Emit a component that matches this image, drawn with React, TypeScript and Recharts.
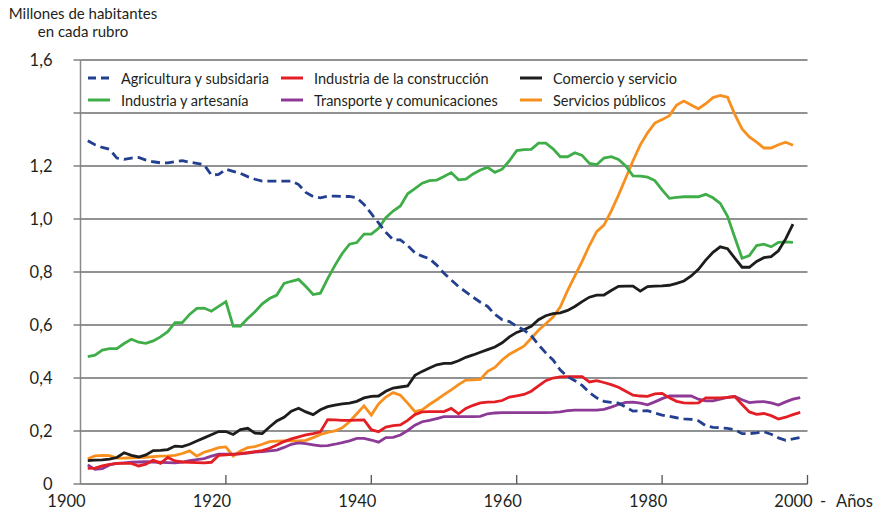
import { LineChart, Line, XAxis, YAxis, CartesianGrid, Legend } from 'recharts';

// años 1901..1999, un valor por año (null = sin dato)
const years = Array.from({ length: 99 }, (_, i) => 1901 + i);

const agricultura = [
  1.295, 1.28, 1.27, 1.263, 1.23, 1.225, 1.23, 1.232, 1.222, 1.216,
  1.212, 1.212, 1.216, 1.22, 1.214, 1.21, 1.205, 1.166, 1.168, 1.188,
  1.18, 1.172, 1.16, 1.15, 1.143, 1.143, 1.143, 1.143, 1.143, 1.13,
  1.1, 1.085, 1.08, 1.086, 1.086, 1.085, 1.085, 1.08, 1.055, 1.02,
  0.985, 0.95, 0.922, 0.921, 0.9, 0.872, 0.86, 0.85, 0.826, 0.795,
  0.77, 0.745, 0.725, 0.705, 0.686, 0.67, 0.64, 0.62, 0.613, 0.595,
  0.581, 0.56, 0.525, 0.495, 0.468, 0.43, 0.405, 0.39, 0.372, 0.345,
  0.325, 0.312, 0.308, 0.305, 0.29, 0.275, 0.276, 0.277, 0.268, 0.26,
  0.255, 0.25, 0.246, 0.244, 0.238, 0.22, 0.214, 0.212, 0.21, 0.205,
  0.19, 0.19, 0.193, 0.197, 0.188, 0.174, 0.165, 0.17, 0.176,
];

const artesania = [
  0.481, 0.486, 0.505, 0.511, 0.511, 0.53, 0.546, 0.535, 0.531, 0.54,
  0.555, 0.575, 0.609, 0.609, 0.64, 0.663, 0.664, 0.652, 0.67, 0.688,
  0.596, 0.596, 0.625, 0.65, 0.68, 0.7, 0.713, 0.757, 0.765, 0.772,
  0.745, 0.715, 0.72, 0.775, 0.825, 0.87, 0.905, 0.911, 0.943, 0.943,
  0.965, 1.005, 1.03, 1.049, 1.095, 1.115, 1.135, 1.145, 1.147, 1.16,
  1.175, 1.148, 1.15, 1.17, 1.185, 1.195, 1.176, 1.188, 1.22, 1.258,
  1.262, 1.263, 1.286, 1.286, 1.265, 1.235, 1.235, 1.25, 1.24, 1.21,
  1.205, 1.23, 1.235, 1.225, 1.2, 1.163, 1.162, 1.158, 1.145, 1.11,
  1.078, 1.082, 1.084, 1.084, 1.084, 1.093, 1.08, 1.059, 1.01, 0.93,
  0.852, 0.862, 0.9, 0.905, 0.895, 0.912, 0.914, 0.912, null,
];

const construccion = [
  0.059, 0.06, 0.068, 0.074, 0.078, 0.078, 0.078, 0.068, 0.075, 0.09,
  0.078, 0.1, 0.087, 0.083, 0.082, 0.081, 0.08, 0.082, 0.108, 0.11,
  0.112, 0.115, 0.118, 0.122, 0.126, 0.135, 0.147, 0.16, 0.17, 0.178,
  0.185, 0.19, 0.197, 0.243, 0.242, 0.24, 0.24, 0.241, 0.242, 0.205,
  0.197, 0.215, 0.22, 0.223, 0.24, 0.262, 0.272, 0.273, 0.273, 0.273,
  0.285, 0.265, 0.285, 0.297, 0.306, 0.309, 0.31, 0.315, 0.328, 0.333,
  0.338, 0.35, 0.37, 0.39, 0.4, 0.404, 0.405, 0.405, 0.405, 0.385,
  0.39, 0.383, 0.375, 0.365, 0.35, 0.335, 0.332, 0.331, 0.34, 0.342,
  0.325, 0.312, 0.306, 0.305, 0.306, 0.325, 0.325, 0.325, 0.327, 0.33,
  0.3, 0.272, 0.263, 0.266, 0.258, 0.245, 0.252, 0.262, 0.27,
];

const transporte = [
  0.072, 0.055, 0.058, 0.072, 0.078, 0.08, 0.082, 0.083, 0.084, 0.083,
  0.082, 0.081, 0.08, 0.083, 0.088, 0.092, 0.096, 0.105, 0.113, 0.113,
  0.113, 0.114, 0.117, 0.12, 0.122, 0.125, 0.128, 0.138, 0.15, 0.155,
  0.152, 0.148, 0.144, 0.145, 0.15, 0.156, 0.163, 0.172, 0.172, 0.166,
  0.158, 0.175, 0.176, 0.185, 0.202, 0.222, 0.235, 0.24, 0.247, 0.254,
  0.254, 0.254, 0.254, 0.254, 0.255, 0.265, 0.268, 0.269, 0.269, 0.269,
  0.269, 0.269, 0.269, 0.269, 0.27, 0.272, 0.277, 0.279, 0.279, 0.279,
  0.279, 0.282, 0.29, 0.3, 0.308, 0.309, 0.305, 0.299, 0.31, 0.322,
  0.332, 0.332, 0.332, 0.332, 0.32, 0.314, 0.314, 0.32, 0.327, 0.33,
  0.318, 0.307, 0.31, 0.311, 0.306, 0.298, 0.31, 0.32, 0.326,
];

const comercio = [
  0.088, 0.09, 0.091, 0.094, 0.1, 0.118, 0.108, 0.102, 0.11, 0.126,
  0.127, 0.13, 0.143, 0.141, 0.15, 0.162, 0.174, 0.186, 0.198, 0.198,
  0.187, 0.205, 0.21, 0.192, 0.19, 0.215, 0.238, 0.252, 0.275, 0.286,
  0.272, 0.262, 0.28, 0.292, 0.298, 0.302, 0.305, 0.312, 0.325, 0.331,
  0.332, 0.35, 0.362, 0.366, 0.37, 0.41, 0.425, 0.438, 0.45, 0.455,
  0.455, 0.465, 0.478, 0.487, 0.497, 0.507, 0.517, 0.533, 0.555, 0.572,
  0.582, 0.595, 0.62, 0.635, 0.643, 0.646, 0.655, 0.67, 0.688, 0.705,
  0.713, 0.713, 0.73, 0.746, 0.747, 0.747, 0.728, 0.745, 0.747, 0.748,
  0.75, 0.757, 0.766, 0.785, 0.81, 0.845, 0.874, 0.895, 0.888, 0.852,
  0.818, 0.818, 0.84, 0.854, 0.858, 0.88, 0.925, 0.981, null,
];

const publicos = [
  0.095, 0.106, 0.108, 0.107, 0.098, 0.098, 0.099, 0.1, 0.101, 0.103,
  0.105, 0.106, 0.108, 0.115, 0.125, 0.105, 0.12, 0.128, 0.137, 0.14,
  0.105, 0.125, 0.137, 0.141, 0.15, 0.16, 0.162, 0.163, 0.163, 0.163,
  0.165, 0.175, 0.187, 0.195, 0.2, 0.212, 0.235, 0.265, 0.295, 0.26,
  0.302, 0.328, 0.345, 0.335, 0.305, 0.273, 0.28, 0.3, 0.318, 0.337,
  0.355, 0.375, 0.392, 0.393, 0.395, 0.425, 0.44, 0.468, 0.49, 0.505,
  0.52, 0.55, 0.58, 0.605, 0.63, 0.669, 0.73, 0.785, 0.84, 0.9,
  0.952, 0.977, 1.03, 1.09, 1.155, 1.22, 1.28, 1.325, 1.362, 1.375,
  1.39, 1.43, 1.445, 1.43, 1.416, 1.435, 1.458, 1.466, 1.46, 1.395,
  1.34, 1.31, 1.29, 1.268, 1.268, 1.28, 1.29, 1.278, null,
];

const xTicks = [1900, 1920, 1940, 1960, 1980, 2000];
const yTicks = [0, 0.2, 0.4, 0.6, 0.8, 1.0, 1.2, 1.4, 1.6];
const yHiddenLabels = [1.4];

const series = [
  { key: 'publicos', name: 'Servicios públicos', color: '#f7901e', values: publicos },
  { key: 'artesania', name: 'Industria y artesanía', color: '#3fae49', values: artesania },
  { key: 'transporte', name: 'Transporte y comunicaciones', color: '#8c3a96', values: transporte },
  { key: 'construccion', name: 'Industria de la construcción', color: '#e31e24', values: construccion },
  { key: 'comercio', name: 'Comercio y servicio', color: '#1d1d1b', values: comercio },
  { key: 'agricultura', name: 'Agricultura y subsidaria', color: '#233f8f', values: agricultura, dashed: true },
];

// orden de la leyenda, fila por fila
const legendOrder = ['agricultura', 'construccion', 'comercio', 'artesania', 'transporte', 'publicos'];

const data = years.map((year, i) => {
  const row: Record<string, number | null> = { year };
  series.forEach((s) => {
    row[s.key] = s.values[i];
  });
  return row;
});

const FONT = 'Lato, "Open Sans", sans-serif';
const TEXT = '#231f20';
const AXIS = '#8a8a8a';

function XTick(props: any) {
  const { x, y, payload } = props;
  return (
    <g>
      {payload.value !== 1900 && (
        <line x1={x} x2={x} y1={y - 9} y2={y} stroke="#555" strokeWidth={1.3} />
      )}
      <text x={x - 14} y={y + 23} textAnchor="middle" fill={TEXT} fontSize={16.5} fontFamily={FONT}>
        {payload.value}
      </text>
    </g>
  );
}

function LegendBox() {
  const cols = [193, 239, 200];
  return (
    <div
      style={{
        display: 'grid',
        gridTemplateColumns: cols.map((c) => c + 'px').join(' '),
        fontFamily: FONT,
        fontSize: 14.5,
        color: TEXT,
      }}
    >
      {legendOrder.map((k) => {
        const s = series.find((it) => it.key === k)!;
        return (
          <div key={k} style={{ display: 'flex', alignItems: 'center', height: 22 }}>
            <svg width={22} height={6} style={{ marginRight: 11 }}>
              <line
                x1={0}
                y1={3}
                x2={22}
                y2={3}
                stroke={s.color}
                strokeWidth={3}
                strokeDasharray={s.dashed ? '8 5' : undefined}
              />
            </svg>
            <span style={{ whiteSpace: 'nowrap' }}>{s.name}</span>
          </div>
        );
      })}
    </div>
  );
}

export default function App() {
  return (
    <div style={{ position: 'absolute', left: 0, top: 0, width: 883, height: 517, background: '#fff' }}>
      <div
        style={{
          position: 'absolute',
          left: 0,
          top: 4,
          width: 166,
          textAlign: 'center',
          fontFamily: FONT,
          fontSize: 15,
          lineHeight: '18px',
          color: TEXT,
        }}
      >
        Millones de habitantes
        <br />
        en cada rubro
      </div>
      <LineChart
        width={883}
        height={517}
        data={data}
        margin={{ top: 60, right: 75.5, bottom: 0, left: 0 }}
      >
        <CartesianGrid vertical={false} stroke="#6d6e71" strokeWidth={1.3} />
        <XAxis
          dataKey="year"
          type="number"
          domain={[1900, 2000]}
          ticks={xTicks}
          height={33}
          tickSize={0}
          tickMargin={0}
          tickLine={false}
          axisLine={{ stroke: AXIS, strokeWidth: 1.5 }}
          tick={<XTick />}
        />
        <YAxis
          domain={[0, 1.6]}
          ticks={yTicks}
          width={80.5}
          tickSize={7}
          tickMargin={21}
          tickLine={{ stroke: '#6d6e71', strokeWidth: 1.3 }}
          axisLine={{ stroke: AXIS, strokeWidth: 1.5 }}
          tick={{ fill: TEXT, fontSize: 16.5, fontFamily: FONT }}
          tickFormatter={(v: number) =>
            yHiddenLabels.includes(v) ? '' : v === 0 ? '0' : v.toFixed(1).replace('.', ',')
          }
        />
        <Legend
          content={<LegendBox />}
          layout="vertical"
          align="center"
          verticalAlign="middle"
          wrapperStyle={{ top: 67, left: 88, width: 640 }}
        />
        {series.map((s) => (
          <Line
            key={s.key}
            type="linear"
            dataKey={s.key}
            name={s.name}
            stroke={s.color}
            strokeWidth={2.8}
            strokeDasharray={s.dashed ? '9 5' : undefined}
            dot={false}
            activeDot={false}
            connectNulls={false}
            isAnimationActive={false}
          />
        ))}
      </LineChart>
      <div
        style={{
          position: 'absolute',
          left: 820,
          top: 491,
          fontFamily: FONT,
          fontSize: 16.5,
          color: TEXT,
        }}
      >
        -
      </div>
      <div
        style={{
          position: 'absolute',
          left: 836,
          top: 491,
          fontFamily: FONT,
          fontSize: 16.5,
          color: TEXT,
        }}
      >
        Años
      </div>
    </div>
  );
}
